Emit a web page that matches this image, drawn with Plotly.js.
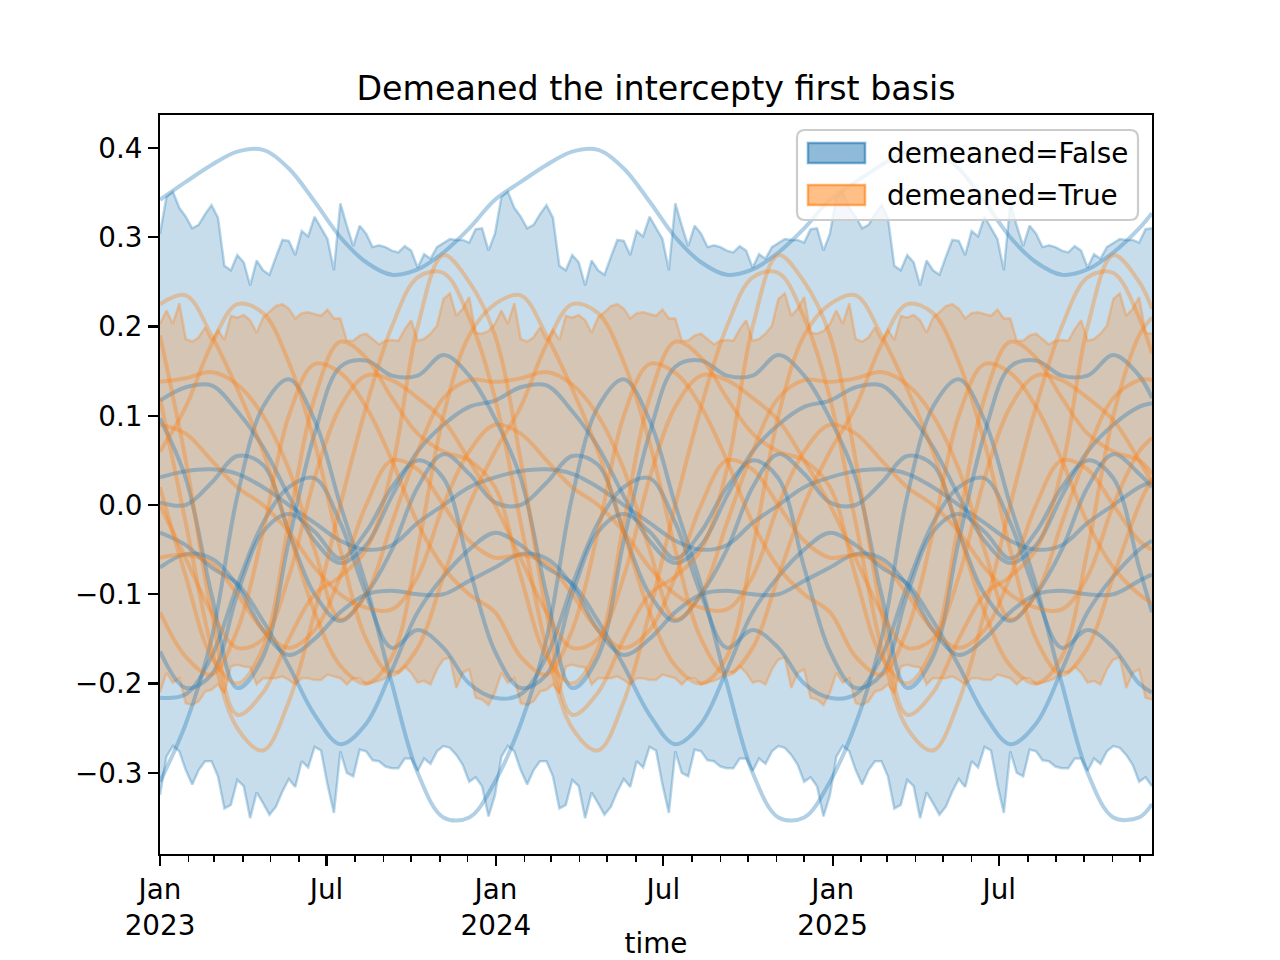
<!DOCTYPE html>
<html>
<head>
<meta charset="utf-8">
<script src="https://cdn.plot.ly/plotly-3.0.1.min.js"></script>
<style>html,body{margin:0;padding:0;background:#fff;}#chart{width:1280px;height:960px;}</style>
</head>
<body>
<div id="chart"></div>
<script>
// ---------------- data ----------------
const START = '2023-01-01';
const END = '2025-12-14';

// weekly HDI bands (155 weekly points from 2023-01-01)
const blueUpper = [
0.304,0.345,0.351,0.333,0.323,0.310,0.314,0.326,0.336,0.322,0.268,0.263,0.280,0.272,0.246,0.274,0.263,0.258,0.278,0.297,0.296,0.280,0.307,0.301,0.323,0.311,0.298,0.263,0.338,0.313,0.290,0.313,0.304,0.289,0.291,0.289,0.285,0.283,0.290,0.285,0.266,0.281,0.276,0.289,0.294,0.298,0.297,0.297,0.294,0.309,0.310,0.285,
0.304,0.345,0.351,0.333,0.323,0.310,0.314,0.326,0.336,0.322,0.268,0.263,0.280,0.272,0.246,0.274,0.263,0.258,0.278,0.297,0.296,0.280,0.307,0.301,0.323,0.311,0.298,0.263,0.338,0.313,0.290,0.313,0.304,0.289,0.291,0.289,0.285,0.283,0.290,0.285,0.266,0.281,0.276,0.289,0.294,0.298,0.297,0.297,0.294,0.309,0.310,0.285,
0.304,0.345,0.351,0.333,0.323,0.310,0.314,0.326,0.336,0.322,0.268,0.263,0.280,0.272,0.246,0.274,0.263,0.258,0.278,0.297,0.296,0.280,0.307,0.301,0.323,0.311,0.298,0.263,0.338,0.313,0.290,0.313,0.304,0.289,0.291,0.289,0.285,0.283,0.290,0.285,0.266,0.281,0.276,0.289,0.294,0.298,0.297,0.297,0.294,0.309,0.310];
const blueLower = [
-0.325,-0.282,-0.270,-0.276,-0.297,-0.313,-0.297,-0.287,-0.287,-0.304,-0.340,-0.336,-0.308,-0.315,-0.351,-0.322,-0.334,-0.347,-0.338,-0.321,-0.307,-0.316,-0.287,-0.294,-0.271,-0.275,-0.313,-0.345,-0.276,-0.300,-0.304,-0.274,-0.276,-0.286,-0.287,-0.293,-0.295,-0.295,-0.284,-0.284,-0.298,-0.284,-0.290,-0.276,-0.270,-0.272,-0.280,-0.291,-0.310,-0.305,-0.315,-0.349,
-0.325,-0.282,-0.270,-0.276,-0.297,-0.313,-0.297,-0.287,-0.287,-0.304,-0.340,-0.336,-0.308,-0.315,-0.351,-0.322,-0.334,-0.347,-0.338,-0.321,-0.307,-0.316,-0.287,-0.294,-0.271,-0.275,-0.313,-0.345,-0.276,-0.300,-0.304,-0.274,-0.276,-0.286,-0.287,-0.293,-0.295,-0.295,-0.284,-0.284,-0.298,-0.284,-0.290,-0.276,-0.270,-0.272,-0.280,-0.291,-0.310,-0.305,-0.315,-0.349,
-0.325,-0.282,-0.270,-0.276,-0.297,-0.313,-0.297,-0.287,-0.287,-0.304,-0.340,-0.336,-0.308,-0.315,-0.351,-0.322,-0.334,-0.347,-0.338,-0.321,-0.307,-0.316,-0.287,-0.294,-0.271,-0.275,-0.313,-0.345,-0.276,-0.300,-0.304,-0.274,-0.276,-0.286,-0.287,-0.293,-0.295,-0.295,-0.284,-0.284,-0.298,-0.284,-0.290,-0.276,-0.270,-0.272,-0.280,-0.291,-0.310,-0.305,-0.315];
const orangeUpper = [
0.203,0.218,0.203,0.226,0.186,0.183,0.188,0.199,0.184,0.196,0.185,0.212,0.210,0.213,0.207,0.193,0.210,0.216,0.223,0.225,0.220,0.209,0.215,0.216,0.214,0.212,0.219,0.209,0.209,0.184,0.184,0.190,0.192,0.186,0.180,0.184,0.185,0.184,0.197,0.207,0.184,0.186,0.192,0.201,0.231,0.237,0.212,0.220,0.233,0.193,0.192,0.195,
0.203,0.218,0.203,0.226,0.186,0.183,0.188,0.199,0.184,0.196,0.185,0.212,0.210,0.213,0.207,0.193,0.210,0.216,0.223,0.225,0.220,0.209,0.215,0.216,0.214,0.212,0.219,0.209,0.209,0.184,0.184,0.190,0.192,0.186,0.180,0.184,0.185,0.184,0.197,0.207,0.184,0.186,0.192,0.201,0.231,0.237,0.212,0.220,0.233,0.193,0.192,0.195,
0.203,0.218,0.203,0.226,0.186,0.183,0.188,0.199,0.184,0.196,0.185,0.212,0.210,0.213,0.207,0.193,0.210,0.216,0.223,0.225,0.220,0.209,0.215,0.216,0.214,0.212,0.219,0.209,0.209,0.184,0.184,0.190,0.192,0.186,0.180,0.184,0.185,0.184,0.197,0.207,0.184,0.186,0.192,0.201,0.231,0.237,0.212,0.220,0.233,0.193,0.192];
const orangeLower = [
-0.210,-0.188,-0.199,-0.194,-0.222,-0.224,-0.220,-0.209,-0.207,-0.201,-0.211,-0.181,-0.179,-0.181,-0.182,-0.201,-0.194,-0.194,-0.194,-0.192,-0.196,-0.201,-0.194,-0.194,-0.196,-0.196,-0.190,-0.192,-0.194,-0.201,-0.194,-0.194,-0.201,-0.199,-0.197,-0.194,-0.186,-0.188,-0.181,-0.188,-0.199,-0.197,-0.201,-0.184,-0.173,-0.171,-0.205,-0.188,-0.184,-0.216,-0.218,-0.224,
-0.210,-0.188,-0.199,-0.194,-0.222,-0.224,-0.220,-0.209,-0.207,-0.201,-0.211,-0.181,-0.179,-0.181,-0.182,-0.201,-0.194,-0.194,-0.194,-0.192,-0.196,-0.201,-0.194,-0.194,-0.196,-0.196,-0.190,-0.192,-0.194,-0.201,-0.194,-0.194,-0.201,-0.199,-0.197,-0.194,-0.186,-0.188,-0.181,-0.188,-0.199,-0.197,-0.201,-0.184,-0.173,-0.171,-0.205,-0.188,-0.184,-0.216,-0.218,-0.224,
-0.210,-0.188,-0.199,-0.194,-0.222,-0.224,-0.220,-0.209,-0.207,-0.201,-0.211,-0.181,-0.179,-0.181,-0.182,-0.201,-0.194,-0.194,-0.194,-0.192,-0.196,-0.201,-0.194,-0.194,-0.196,-0.196,-0.190,-0.192,-0.194,-0.201,-0.194,-0.194,-0.201,-0.199,-0.197,-0.194,-0.186,-0.188,-0.181,-0.188,-0.199,-0.197,-0.201,-0.184,-0.173,-0.171,-0.205,-0.188,-0.184,-0.216,-0.218];

// sample curves, read every 4 weeks (week index of each reading)
const LINE_WEEKS = [0,4,8,12,16,20,24,28,32,36,40,44,48,52,56,60,64,68,72,76,80,84,88,92,96,100,104,108,112,116,120,124,128,132,136,140,144,148,152,154];

// demeaned=False samples
const blueB1 = [0.342,0.362,0.381,0.396,0.398,0.377,0.340,0.300,0.272,0.258,0.264,0.283,0.310, 0.342,0.362,0.381,0.396,0.398,0.377,0.340,0.300,0.272,0.258,0.264,0.283,0.310, 0.342,0.362,0.381,0.396,0.398,0.377,0.340,0.300,0.272,0.258,0.264,0.283,0.310, 0.327];
const blueB2 = [-0.310,-0.245,-0.150,0.010,0.110,0.141,0.095,0.000,-0.090,-0.200,-0.300,-0.350,-0.350, -0.310,-0.245,-0.150,0.010,0.110,0.141,0.095,0.000,-0.090,-0.200,-0.300,-0.350,-0.350, -0.310,-0.245,-0.150,0.010,0.110,0.141,0.095,0.000,-0.090,-0.200,-0.300,-0.350,-0.350, -0.335];
const blueB3 = [0.117,0.132,0.134,0.105,0.065,0.010,-0.040,-0.065,-0.045,0.010,0.060,0.090,0.110, 0.117,0.132,0.134,0.105,0.065,0.010,-0.040,-0.065,-0.045,0.010,0.060,0.090,0.110, 0.117,0.132,0.134,0.105,0.065,0.010,-0.040,-0.065,-0.045,0.010,0.060,0.090,0.110, 0.114];
const blueB4 = [0.097,0.030,-0.100,-0.205,-0.170,-0.040,0.080,0.155,0.162,0.145,0.145,0.168,0.145, 0.097,0.030,-0.100,-0.205,-0.170,-0.040,0.080,0.155,0.162,0.145,0.145,0.168,0.145, 0.097,0.030,-0.100,-0.205,-0.170,-0.040,0.080,0.155,0.162,0.145,0.145,0.168,0.145, 0.120];
const blueB5 = [0.003,0.000,0.025,0.055,0.045,-0.030,-0.100,-0.130,-0.100,-0.050,0.020,0.057,0.035, 0.003,0.000,0.025,0.055,0.045,-0.030,-0.100,-0.130,-0.100,-0.050,0.020,0.057,0.035, 0.003,0.000,0.025,0.055,0.045,-0.030,-0.100,-0.130,-0.100,-0.050,0.020,0.057,0.035, 0.020];
const blueB6 = [-0.031,-0.045,-0.070,-0.088,-0.130,-0.180,-0.235,-0.268,-0.245,-0.185,-0.120,-0.080,-0.050, -0.031,-0.045,-0.070,-0.088,-0.130,-0.180,-0.235,-0.268,-0.245,-0.185,-0.120,-0.080,-0.050, -0.031,-0.045,-0.070,-0.088,-0.130,-0.180,-0.235,-0.268,-0.245,-0.185,-0.120,-0.080,-0.050, -0.040];
const blueB7 = [-0.070,-0.055,-0.060,-0.090,-0.140,-0.168,-0.150,-0.120,-0.100,-0.096,-0.100,-0.100,-0.085, -0.070,-0.055,-0.060,-0.090,-0.140,-0.168,-0.150,-0.120,-0.100,-0.096,-0.100,-0.100,-0.085, -0.070,-0.055,-0.060,-0.090,-0.140,-0.168,-0.150,-0.120,-0.100,-0.096,-0.100,-0.100,-0.085, -0.078];
const blueB8 = [-0.164,-0.205,-0.190,-0.100,-0.030,-0.010,-0.030,-0.060,-0.030,0.020,0.050,0.030,-0.070, -0.164,-0.205,-0.190,-0.100,-0.030,-0.010,-0.030,-0.060,-0.030,0.020,0.050,0.030,-0.070, -0.164,-0.205,-0.190,-0.100,-0.030,-0.010,-0.030,-0.060,-0.030,0.020,0.050,0.030,-0.070, -0.120];
const blueB9 = [-0.216,-0.212,-0.170,-0.090,-0.020,0.020,0.030,-0.020,-0.100,-0.160,-0.140,-0.160,-0.200, -0.216,-0.212,-0.170,-0.090,-0.020,0.020,0.030,-0.020,-0.100,-0.160,-0.140,-0.160,-0.200, -0.216,-0.212,-0.170,-0.090,-0.020,0.020,0.030,-0.020,-0.100,-0.160,-0.140,-0.160,-0.200, -0.210];
const blueB10 = [0.031,0.038,0.040,0.035,0.020,0.000,-0.020,-0.040,-0.050,-0.045,-0.020,0.000,0.020, 0.031,0.038,0.040,0.035,0.020,0.000,-0.020,-0.040,-0.050,-0.045,-0.020,0.000,0.020, 0.031,0.038,0.040,0.035,0.020,0.000,-0.020,-0.040,-0.050,-0.045,-0.020,0.000,0.020, 0.026];

// demeaned=True samples
const orangeO1 = [0.225,0.235,0.190,0.130,0.060,-0.030,-0.120,-0.180,-0.200,-0.170,-0.050,0.100,0.190, 0.225,0.235,0.190,0.130,0.060,-0.030,-0.120,-0.180,-0.200,-0.170,-0.050,0.100,0.190, 0.225,0.235,0.190,0.130,0.060,-0.030,-0.120,-0.180,-0.200,-0.170,-0.050,0.100,0.190, 0.210];
const orangeO2 = [0.060,0.110,0.180,0.225,0.215,0.160,0.070,-0.050,-0.150,-0.190,-0.160,-0.080,0.000, 0.060,0.110,0.180,0.225,0.215,0.160,0.070,-0.050,-0.150,-0.190,-0.160,-0.080,0.000, 0.060,0.110,0.180,0.225,0.215,0.160,0.070,-0.050,-0.150,-0.190,-0.160,-0.080,0.000, 0.030];
const orangeO3 = [0.138,0.142,0.149,0.135,0.100,0.040,-0.050,-0.128,-0.100,-0.020,0.060,0.120,0.140, 0.138,0.142,0.149,0.135,0.100,0.040,-0.050,-0.128,-0.100,-0.020,0.060,0.120,0.140, 0.138,0.142,0.149,0.135,0.100,0.040,-0.050,-0.128,-0.100,-0.020,0.060,0.120,0.140, 0.140];
const orangeO4 = [-0.120,-0.170,-0.190,-0.140,-0.030,0.100,0.158,0.148,0.110,0.050,-0.020,-0.070,-0.100, -0.120,-0.170,-0.190,-0.140,-0.030,0.100,0.158,0.148,0.110,0.050,-0.020,-0.070,-0.100, -0.120,-0.170,-0.190,-0.140,-0.030,0.100,0.158,0.148,0.110,0.050,-0.020,-0.070,-0.100, -0.110];
const orangeO5 = [0.020,-0.080,-0.170,-0.200,-0.160,-0.020,0.120,0.183,0.165,0.120,0.080,0.060,0.050, 0.020,-0.080,-0.170,-0.200,-0.160,-0.020,0.120,0.183,0.165,0.120,0.080,0.060,0.050, 0.020,-0.080,-0.170,-0.200,-0.160,-0.020,0.120,0.183,0.165,0.120,0.080,0.060,0.050, 0.035];
const orangeO6 = [0.000,-0.060,-0.120,-0.160,-0.150,-0.080,0.030,0.110,0.145,0.140,0.120,0.095,0.050, 0.000,-0.060,-0.120,-0.160,-0.150,-0.080,0.030,0.110,0.145,0.140,0.120,0.095,0.050, 0.000,-0.060,-0.120,-0.160,-0.150,-0.080,0.030,0.110,0.145,0.140,0.120,0.095,0.050, 0.025];
const orangeO7 = [0.190,0.050,-0.120,-0.235,-0.210,-0.150,-0.100,-0.080,-0.050,0.040,0.200,0.280,0.250, 0.190,0.050,-0.120,-0.235,-0.210,-0.150,-0.100,-0.080,-0.050,0.040,0.200,0.280,0.250, 0.190,0.050,-0.120,-0.235,-0.210,-0.150,-0.100,-0.080,-0.050,0.040,0.200,0.280,0.250, 0.220];
const orangeO8 = [0.120,-0.020,-0.160,-0.250,-0.275,-0.220,-0.120,0.000,0.110,0.200,0.255,0.260,0.210, 0.120,-0.020,-0.160,-0.250,-0.275,-0.220,-0.120,0.000,0.110,0.200,0.255,0.260,0.210, 0.120,-0.020,-0.160,-0.250,-0.275,-0.220,-0.120,0.000,0.110,0.200,0.255,0.260,0.210, 0.170];
const orangeO9 = [-0.059,-0.056,-0.065,-0.100,-0.140,-0.160,-0.140,-0.080,0.000,0.050,0.040,0.000,-0.040, -0.059,-0.056,-0.065,-0.100,-0.140,-0.160,-0.140,-0.080,0.000,0.050,0.040,0.000,-0.040, -0.059,-0.056,-0.065,-0.100,-0.140,-0.160,-0.140,-0.080,0.000,0.050,0.040,0.000,-0.040, -0.050];
const orangeO10 = [0.090,0.080,0.050,0.020,0.000,-0.030,-0.070,-0.100,-0.115,-0.117,-0.080,0.000,0.060, 0.090,0.080,0.050,0.020,0.000,-0.030,-0.070,-0.100,-0.115,-0.117,-0.080,0.000,0.060, 0.090,0.080,0.050,0.020,0.000,-0.030,-0.070,-0.100,-0.115,-0.117,-0.080,0.000,0.060, 0.075];

const blueLines = [blueB1, blueB2, blueB3, blueB4, blueB5, blueB6, blueB7, blueB8, blueB9, blueB10];
const orangeLines = [orangeO1, orangeO2, orangeO3, orangeO4, orangeO5, orangeO6, orangeO7, orangeO8, orangeO9, orangeO10];

const TICK_VALS_X = ['2023-01-01','2023-07-01','2024-01-01','2024-07-01','2025-01-01','2025-07-01'];
const TICK_TEXT_X = ['Jan<br>2023','Jul','Jan<br>2024','Jul','Jan<br>2025','Jul'];
const TICK_VALS_Y = [-0.3,-0.2,-0.1,0.0,0.1,0.2,0.3,0.4];
const TICK_TEXT_Y = ['\u22120.3','\u22120.2','\u22120.1','0.0','0.1','0.2','0.3','0.4'];
const LEGEND_LABELS = ['demeaned=False','demeaned=True'];
const TITLE = 'Demeaned the intercepty first basis';
const X_TITLE = 'time';

// ---------------- build ----------------
function weekDate(w){
  const d = new Date(Date.UTC(2023,0,1) + w*7*86400000);
  return d.toISOString().slice(0,10);
}
const bandDates = blueUpper.map((_, i) => weekDate(i));
const lineDates = LINE_WEEKS.map(weekDate);

const C0 = '31,119,180', C1 = '255,127,14';
const traces = [];
function band(lower, upper, rgb){
  traces.push({x: bandDates, y: lower, type:'scatter', mode:'lines',
    line:{color:`rgba(${rgb},0.3)`, width:2.5}, hoverinfo:'skip', showlegend:false});
  traces.push({x: bandDates, y: upper, type:'scatter', mode:'lines', fill:'tonexty',
    fillcolor:`rgba(${rgb},0.25)`, line:{color:`rgba(${rgb},0.3)`, width:2.5}, hoverinfo:'skip', showlegend:false});
}
band(blueLower, blueUpper, C0);
band(orangeLower, orangeUpper, C1);
blueLines.forEach(v => traces.push({x: lineDates, y: v, type:'scatter', mode:'lines',
  line:{color:`rgba(${C0},0.35)`, width:4, shape:'spline', smoothing:1}, hoverinfo:'skip', showlegend:false}));
orangeLines.forEach(v => traces.push({x: lineDates, y: v, type:'scatter', mode:'lines',
  line:{color:`rgba(${C1},0.35)`, width:4, shape:'spline', smoothing:1}, hoverinfo:'skip', showlegend:false}));

// plot area in pixels
const PL = 160, PR = 1152, PT = 115, PB = 854;
const px = x => (x - PL) / (PR - PL);
const py = y => (PB - y) / (PB - PT);
function roundRect(x0, y0, x1, y1, r){
  const rx = r/(PR-PL), ry = r/(PB-PT);
  const X0 = px(x0), X1 = px(x1), Yt = py(y0), Yb = py(y1);
  return `M ${X0+rx},${Yt} L ${X1-rx},${Yt} Q ${X1},${Yt} ${X1},${Yt-ry} L ${X1},${Yb+ry} Q ${X1},${Yb} ${X1-rx},${Yb} L ${X0+rx},${Yb} Q ${X0},${Yb} ${X0},${Yb+ry} L ${X0},${Yt-ry} Q ${X0},${Yt} ${X0+rx},${Yt} Z`;
}
const FONT = 'DejaVu Sans, Liberation Sans, sans-serif';
const TXT = {family:FONT, size:27.8, color:'#000'};
const shapes = [
  {type:'path', xref:'paper', yref:'paper', path: roundRect(797,130,1138,220,8),
   fillcolor:'rgba(255,255,255,0.8)', line:{color:'rgb(204,204,204)', width:2.2}, layer:'above'},
  {type:'rect', xref:'paper', yref:'paper', x0:px(808), x1:px(865), y0:py(163), y1:py(143),
   fillcolor:`rgba(${C0},0.5)`, line:{color:`rgba(${C0},0.6)`, width:2.5}, layer:'above'},
  {type:'rect', xref:'paper', yref:'paper', x0:px(808), x1:px(865), y0:py(205), y1:py(185),
   fillcolor:`rgba(${C1},0.5)`, line:{color:`rgba(${C1},0.6)`, width:2.5}, layer:'above'}
];
const annotations = [
  {xref:'paper', yref:'paper', x:px(885), y:py(153), xanchor:'left', yanchor:'middle', showarrow:false,
   text: LEGEND_LABELS[0], font:TXT},
  {xref:'paper', yref:'paper', x:px(885), y:py(195), xanchor:'left', yanchor:'middle', showarrow:false,
   text: LEGEND_LABELS[1], font:TXT}
];

const axisCommon = {
  showline:true, linecolor:'#000', linewidth:2.2, mirror:true, showgrid:false, zeroline:false,
  ticks:'outside', ticklen:9.7, tickwidth:2.2, tickcolor:'#000',
  tickfont:TXT
};
const layout = {
  width:1280, height:960, autosize:false,
  margin:{l:PL, r:1280-PR, t:PT, b:960-PB, pad:0},
  paper_bgcolor:'#fff', plot_bgcolor:'#fff',
  font:TXT,
  showlegend:false,
  title:{text:TITLE, font:{family:FONT, size:33.3, color:'#000'}, x:(PL+PR)/2/1280, xanchor:'center',
         y:1-88/960, yanchor:'middle', xref:'container', yref:'container'},
  xaxis: Object.assign({}, axisCommon, {
    type:'date', range:[START, END], tickmode:'array', tickvals:TICK_VALS_X, ticktext:TICK_TEXT_X,
    minor:{ticks:'outside', ticklen:5.6, tickwidth:1.7, tickcolor:'#000', dtick:'M1', tick0:START, showgrid:false},
    title:{text:X_TITLE, font:TXT, standoff:8},
    automargin:false
  }),
  yaxis: Object.assign({}, axisCommon, {
    range:[-0.391, 0.437], tickmode:'array', tickvals:TICK_VALS_Y, ticktext:TICK_TEXT_Y, automargin:false
  }),
  shapes: shapes,
  annotations: annotations
};
Plotly.newPlot('chart', traces, layout, {staticPlot:true, displayModeBar:false});
</script>
</body>
</html>
